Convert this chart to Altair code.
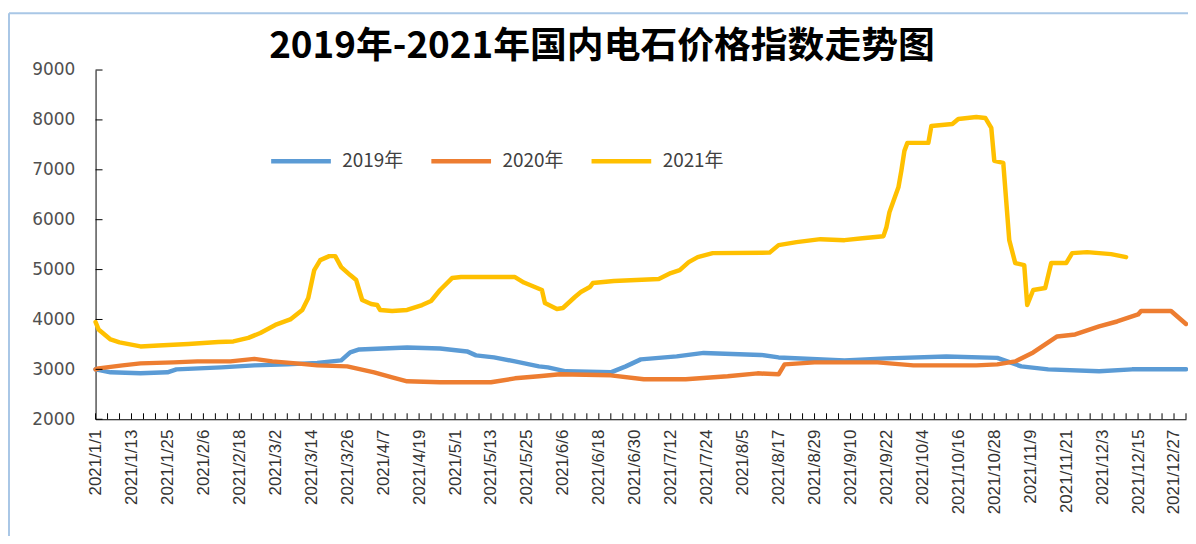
import altair as alt
import pandas as pd

# ---------------- data ----------------
x_labels = ["2021/1/1", "2021/1/13", "2021/1/25", "2021/2/6", "2021/2/18", "2021/3/2",
            "2021/3/14", "2021/3/26", "2021/4/7", "2021/4/19", "2021/5/1", "2021/5/13",
            "2021/5/25", "2021/6/6", "2021/6/18", "2021/6/30", "2021/7/12", "2021/7/24",
            "2021/8/5", "2021/8/17", "2021/8/29", "2021/9/10", "2021/9/22", "2021/10/4",
            "2021/10/16", "2021/10/28", "2021/11/9", "2021/11/21", "2021/12/3",
            "2021/12/15", "2021/12/27"]

series_names = ["2019年", "2020年", "2021年"]
series_colors = ["#5B9BD5", "#ED7D31", "#FFC000"]

# day index counted from 1 January
days_2019 = [0, 5, 15, 24, 27, 42, 53, 64, 74, 82, 85, 88, 104, 115, 124, 127, 133, 140,
             148, 151, 157, 172, 177, 182, 194, 203, 222, 228, 250, 264, 284, 301, 309,
             318, 335, 346, 364]
vals_2019 = [3000, 2940, 2920, 2940, 3000, 3040, 3080, 3100, 3130, 3180, 3340, 3400, 3440,
             3420, 3360, 3280, 3240, 3160, 3060, 3040, 2960, 2940, 3060, 3200, 3260, 3330,
             3290, 3240, 3180, 3220, 3260, 3230, 3060, 3000, 2960, 3000, 3000]

days_2020 = [0, 1, 9, 15, 26, 34, 45, 53, 59, 67, 74, 84, 93, 99, 104, 115, 132, 140, 148,
             155, 172, 183, 197, 211, 221, 228, 230, 240, 261, 273, 294, 301, 307, 313, 321,
             327, 335, 341, 348, 349, 359, 364]
vals_2020 = [3000, 3020, 3080, 3120, 3140, 3160, 3160, 3210, 3160, 3120, 3080, 3060, 2940,
             2840, 2760, 2740, 2740, 2820, 2860, 2900, 2880, 2800, 2800, 2860, 2920, 2900,
             3100, 3140, 3140, 3080, 3080, 3100, 3160, 3340, 3660, 3700, 3860, 3960, 4100,
             4170, 4170, 3910]

days_2021 = [0, 1, 5, 8, 15, 21, 31, 41, 46, 51, 55, 60, 65, 69, 71, 73, 75, 78, 80, 82,
             85, 87, 89, 92, 94, 95, 99, 104, 109, 112, 115, 119, 122, 140, 143, 149, 150,
             154, 156, 160, 162, 165, 166, 173, 188, 192, 195, 198, 201, 206, 225, 228, 234,
             242, 250, 256, 263, 264, 265, 268, 269, 270, 271, 278, 279, 286, 288, 294, 297,
             299, 300, 303, 305, 307, 310, 311, 313, 317, 319, 324, 326, 331, 339, 344]
vals_2021 = [3950, 3800, 3600, 3540, 3460, 3480, 3510, 3550, 3560, 3630, 3730, 3890, 4000,
             4190, 4430, 4990, 5190, 5270, 5270, 5050, 4890, 4790, 4390, 4310, 4290, 4190,
             4170, 4190, 4290, 4370, 4590, 4830, 4850, 4850, 4740, 4590, 4330, 4210, 4230,
             4450, 4550, 4650, 4730, 4770, 4810, 4930, 4990, 5150, 5250, 5330, 5340, 5490,
             5550, 5610, 5590, 5630, 5670, 5850, 6150, 6650, 6990, 7380, 7540, 7540, 7880,
             7920, 8020, 8060, 8040, 7840, 7180, 7140, 5590, 5130, 5090, 4290, 4590, 4630,
             5130, 5130, 5330, 5350, 5310, 5250]

y_tick_values = [2000, 3000, 4000, 5000, 6000, 7000, 8000, 9000]
x_label_days = list(range(0, 361, 12))
x_tick_days = list(range(0, 365, 4))

rows = []
for name, ds, vs in zip(series_names, [days_2019, days_2020, days_2021],
                        [vals_2019, vals_2020, vals_2021]):
    for d, v in zip(ds, vs):
        rows.append({"day": d, "value": v, "series": name})
df = pd.DataFrame(rows)

# ---------------- chart ----------------
W, H = 1096, 351
xscale = alt.Scale(domain=[0, 364], nice=False, zero=False)
yscale = alt.Scale(domain=[2000, 9000], nice=False, zero=False)

label_js = "[" + ",".join("'" + s + "'" for s in x_labels) + "]"

x_axis = alt.Axis(values=x_label_days, labelExpr=label_js + "[round(datum.value/12)]",
                  labelAngle=-90, ticks=False, grid=False, domainColor="black",
                  domainWidth=1, title=None, labelFont="Liberation Sans",
                  labelFontSize=17, labelColor="#333333", labelPadding=10,
                  labelOverlap=False, labelFlush=False, labelBound=False)
y_axis = alt.Axis(values=y_tick_values, ticks=False, grid=False, domainColor="black",
                  domainWidth=1, title=None, format="d", labelFont="DejaVu Sans",
                  labelFontSize=17, labelColor="#505050", labelPadding=21,
                  labelOverlap=False, labelFlush=False)

lines = alt.Chart(df).mark_line(strokeWidth=4.5, strokeJoin="round", strokeCap="round").encode(
    x=alt.X("day:Q", scale=xscale, axis=x_axis),
    y=alt.Y("value:Q", scale=yscale, axis=y_axis),
    color=alt.Color("series:N", scale=alt.Scale(domain=series_names, range=series_colors),
                    legend=alt.Legend(title=None, orient="none", legendX=174, legendY=59,
                                      direction="horizontal", symbolType="stroke",
                                      symbolSize=3600, symbolStrokeWidth=4.5,
                                      labelFont="Noto Sans CJK SC", labelFontSize=19,
                                      labelColor="#404040", columnPadding=18, labelOffset=9)),
)

# inward-pointing tick marks, drawn through the shared scales
ytick = alt.Chart(pd.DataFrame({"value": y_tick_values})).mark_rule(
    color="black", strokeWidth=1).encode(
    y=alt.Y("value:Q", scale=yscale, axis=y_axis), x=alt.value(0), x2=alt.value(7))

xtick = alt.Chart(pd.DataFrame({"day": x_tick_days})).mark_rule(
    color="black", strokeWidth=1).encode(
    x=alt.X("day:Q", scale=xscale, axis=x_axis), y=alt.value(H - 6), y2=alt.value(H))

# light outer frame of the picture
frame_v = alt.Chart(pd.DataFrame({"f": [0]})).mark_rule(color="#a9c7e6", strokeWidth=2).encode(
    x=alt.value(-87), y=alt.value(-57), y2=alt.value(H + 140))
frame_h = alt.Chart(pd.DataFrame({"f": [0]})).mark_rule(color="#a9c7e6", strokeWidth=2).encode(
    x=alt.value(-87), x2=alt.value(W + 20), y=alt.value(-57))

chart = alt.layer(lines, ytick, xtick, frame_v, frame_h).properties(
    width=W, height=H,
    title=alt.TitleParams("2019年-2021年国内电石价格指数走势图", font="Noto Sans CJK SC",
                          fontSize=37, fontWeight="bold", color="black", anchor="middle",
                          dx=-39, offset=-54),
    autosize=alt.AutoSizeParams(type="none"),
    padding={"left": 88, "top": 61, "right": 2, "bottom": 116},
    background="white",
).configure_view(stroke=None)

chart.save("out.html", embed_options={"renderer": "svg", "actions": False})
